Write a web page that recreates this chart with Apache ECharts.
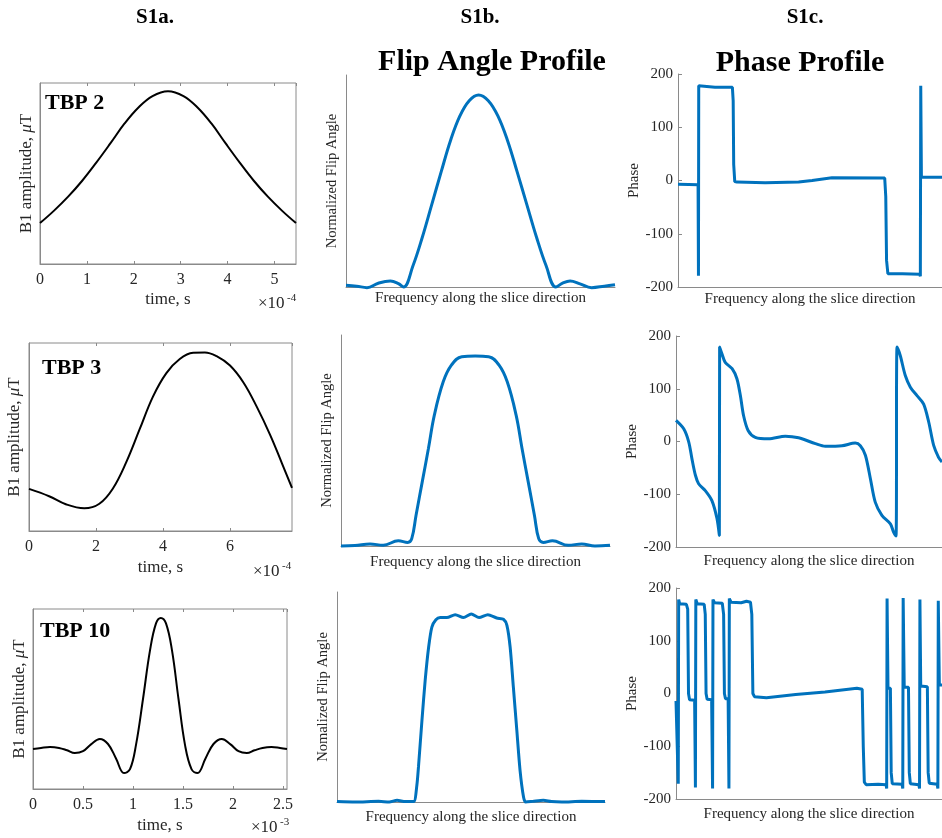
<!DOCTYPE html>
<html>
<head>
<meta charset="utf-8">
<title>RF pulse, flip angle and phase profiles</title>
<script src="https://cdn.jsdelivr.net/npm/echarts@6/dist/echarts.min.js"></script>
<style>
  html, body { margin: 0; padding: 0; background: #fff; }
  #main { width: 942px; height: 838px; }
</style>
</head>
<body>
<div id="main"></div>
<script>
// S1a: B1 pulse shapes, [time (x10^-4 or x10^-3 s), amplitude as fraction of the box]
const tbp2Pulse = [[0,0.226],[0.3,0.295],[0.6,0.372],[0.9,0.46],[1.2,0.56],[1.5,0.666],[1.8,0.775],[2.1,0.865],[2.4,0.928],[2.73,0.955],
  [3.06,0.928],[3.36,0.865],[3.66,0.775],[3.96,0.666],[4.26,0.56],[4.56,0.46],[4.86,0.372],[5.16,0.295],[5.46,0.226]];
const tbp3Pulse = [[0,0.224],[0.6,0.185],[1.1,0.142],[1.65,0.121],[2.1,0.145],[2.5,0.225],[2.9,0.365],[3.3,0.54],[3.7,0.715],[4.1,0.84],
  [4.5,0.915],[4.9,0.948],[5.25,0.95],[5.6,0.93],[6.0,0.88],[6.4,0.79],[6.8,0.66],[7.2,0.51],[7.55,0.36],[7.85,0.23]];
const tbp10Pulse = [[0,0.222],[0.08,0.228],[0.17,0.233],[0.26,0.228],[0.34,0.215],[0.418,0.2],[0.5,0.21],[0.58,0.248],[0.668,0.278],[0.75,0.25],
  [0.83,0.17],[0.91,0.089],[0.97,0.11],[1.03,0.245],[1.1,0.5],[1.17,0.77],[1.23,0.92],[1.278,0.95],[1.33,0.92],[1.39,0.77],[1.455,0.5],
  [1.52,0.245],[1.585,0.11],[1.645,0.089],[1.725,0.17],[1.805,0.25],[1.888,0.278],[1.975,0.248],[2.055,0.21],[2.138,0.2],[2.215,0.215],
  [2.295,0.228],[2.385,0.233],[2.47,0.228],[2.54,0.222]];

// S1b: normalized flip angle vs frequency (0..100 across the panel)
const tbp2Flip = [[0,0.008],[4,0.004],[7.8,-0.003],[12,0.018],[16.5,0.028],[19.5,0.016],[21.4,0],[24.9,0.1],[28.4,0.236],[31.9,0.39],
  [35.4,0.544],[38.8,0.689],[42.3,0.806],[45.8,0.879],[49.3,0.906],[52.9,0.879],[56.5,0.806],[60.1,0.689],[63.6,0.544],[67.2,0.39],
  [70.8,0.236],[74.4,0.1],[78,0],[80.5,0.018],[83.3,0.028],[87,0.015],[91.3,-0.003],[96,0.004],[100,0.011]];
const tbp3Flip = [[0,0],[5.2,0.002],[10.8,0.01],[15.7,0.003],[21.3,0.025],[24.8,0.017],[26.3,0.035],[27.9,0.146],[30.2,0.304],[32.5,0.462],
  [34.7,0.62],[38,0.778],[41.1,0.858],[44.9,0.897],[49.9,0.9],[54.9,0.897],[58.7,0.858],[61.8,0.778],[65.1,0.62],[67.3,0.462],
  [69.6,0.304],[71.9,0.146],[73.5,0.035],[75.2,0.017],[78.6,0.025],[84.5,0.003],[89.5,0.01],[94.4,0],[100,0.003]];
const tbp10Flip = [[0,0.002],[6.8,0],[15.5,0.003],[19.5,0],[22.4,0.008],[25.5,0.002],[28.6,0.002],[29.8,0.08],[30.4,0.167],[31.7,0.389],
  [32.9,0.579],[34.2,0.738],[35.4,0.833],[36.9,0.868],[38.5,0.878],[41,0.878],[44.1,0.892],[47.2,0.878],[50.1,0.895],[53,0.878],
  [56.3,0.892],[59.6,0.876],[62.1,0.87],[63.4,0.841],[64.6,0.738],[65.8,0.548],[67.1,0.341],[68.3,0.151],[69.6,0.024],[70.4,0],
  [73,0.003],[77,0.008],[80,0.002],[83.9,0],[91.3,0.003],[100,0.002]];

// S1c: phase (degrees) vs frequency (0..100 across the panel)
const tbp2Phase = [[0,-7],[4,-7.5],[7.6,-8],[7.75,-179],[7.85,178],[8.3,175],[14,175],[20.6,175],[20.9,150],[21.1,30],[21.5,-2],
  [22.3,-3],[33,-4.4],[45.7,-3],[50.8,0],[58.3,5],[78.3,4.5],[78.7,-30],[79,-150],[79.5,-175],[85,-175],[91.6,-176],[91.8,-180],
  [91.95,178],[92.2,6],[96,6],[100,6]];
const tbp3Phase = [[0,40],[2.9,24],[4.8,-1],[6,-33],[7.3,-64],[8.5,-80],[11,-93],[13.5,-112],[15.4,-146],[16.3,-178],[16.4,179],
  [17.3,166],[18.5,150],[21.1,138],[22.9,119],[24.2,87],[25.4,49],[27.1,21],[29.8,8],[34.8,5],[41.1,10],[46.1,7],[52.4,-4],
  [56.1,-9],[62.4,-8],[67.4,-3],[69.3,-8],[71.2,-26],[73.1,-71],[74.9,-115],[77.4,-140],[80.6,-156],[81.8,-172],[82.7,-179],
  [83.1,179],[84.3,163],[86.2,125],[88.1,103],[90.6,87],[93.1,71],[95,37],[96.9,-8],[98.7,-30],[100,-39]];
const tbp10Phase = [[0,-14],[0.6,-14],[0.85,-171],[1,178],[1.4,170],[3.9,169],[4.4,160],[4.7,0],[5.1,-12],[7,-13],[7.3,-178],
  [7.45,178],[8,170],[10.6,169],[11,150],[11.3,0],[11.7,-11],[13.4,-12],[13.75,-180],[13.9,178],[14.5,172],[17.4,171],[17.9,150],
  [18.2,0],[18.6,-10],[19.6,-10],[19.9,-180],[20.05,180],[20.7,173],[24.5,172],[26.5,175],[28,173],[28.5,150],[28.9,0],[29.5,-6],
  [34,-8],[45,-2],[56,3],[68,10],[70,8],[70.4,-100],[70.8,-168],[71.5,-173],[76,-172],[79,-173],[79.2,-180],[79.35,180],[79.7,10],
  [80.6,10],[80.9,-150],[81.3,-171],[85,-172],[85.25,-180],[85.4,181],[85.8,12],[87.4,12],[87.7,-150],[88.1,-171],[91.3,-173],
  [91.55,-180],[91.7,178],[92,14],[94.5,13],[94.8,-150],[95.2,-170],[98.2,-172],[98.45,-180],[98.6,176],[99,16],[100,16]];

const phaseTicks = [-200, -100, 0, 100, 200];

const FONT = '"Liberation Serif", "Times New Roman", serif';
const GRAY = '#8a8a8a';
const TEXT = '#262626';
const BLUE = '#0072BD';

const grids = [], xAxes = [], yAxes = [], series = [];

function addGrid(rect, boxed) {
  grids.push(Object.assign({
    show: boxed, borderColor: GRAY, borderWidth: 1, backgroundColor: 'transparent',
    containLabel: false, outerBoundsMode: 'none'
  }, rect));
  return grids.length - 1;
}

function nameStyle(size) {
  return { fontFamily: FONT, fontSize: size, color: TEXT };
}

// left column: boxed pulse plot
function pulsePanel(rect, data, xMax, xStep, yGap, xGap) {
  const g = addGrid(rect, true);
  const tick = { show: true, inside: true, length: 3, lineStyle: { color: GRAY } };
  xAxes.push({
    gridIndex: g, type: 'value', min: 0, max: xMax, interval: xStep, position: 'bottom',
    axisLine: { show: true, onZero: false, lineStyle: { color: GRAY } },
    axisTick: tick,
    axisLabel: { show: true, showMaxLabel: false, color: TEXT, fontFamily: FONT, fontSize: 16, margin: 8 },
    splitLine: { show: false },
    name: 'time, s', nameLocation: 'middle', nameGap: xGap, nameTextStyle: nameStyle(17)
  });
  const xi = xAxes.length - 1;
  xAxes.push({
    gridIndex: g, type: 'value', min: 0, max: xMax, interval: xStep, position: 'top',
    axisLine: { show: false, onZero: false }, axisTick: tick,
    axisLabel: { show: false }, splitLine: { show: false }
  });
  yAxes.push({
    gridIndex: g, type: 'value', min: 0, max: 1,
    axisLine: { show: true, onZero: false, lineStyle: { color: GRAY } },
    axisTick: { show: false }, axisLabel: { show: false }, splitLine: { show: false },
    name: 'B1 amplitude, {mu|μ}T', nameLocation: 'middle', nameGap: yGap,
    nameTextStyle: Object.assign(nameStyle(17), { rich: { mu: { fontFamily: FONT, fontSize: 17, fontStyle: 'italic', color: TEXT } } })
  });
  series.push({
    type: 'line', xAxisIndex: xi, yAxisIndex: yAxes.length - 1, data: data,
    showSymbol: false, smooth: 0.4, clip: false, silent: true,
    lineStyle: { color: '#000', width: 2 }
  });
}

// middle column: flip angle profile, only left and bottom axis lines
function flipPanel(rect, data, yName, xGap, smooth) {
  const g = addGrid(rect, false);
  xAxes.push({
    gridIndex: g, type: 'value', min: 0, max: 100,
    axisLine: { show: true, onZero: false, lineStyle: { color: GRAY } },
    axisTick: { show: false }, axisLabel: { show: false }, splitLine: { show: false },
    name: 'Frequency along the slice direction', nameLocation: 'middle', nameGap: xGap, nameTextStyle: nameStyle(15)
  });
  yAxes.push({
    gridIndex: g, type: 'value', min: 0, max: 1,
    axisLine: { show: true, onZero: false, lineStyle: { color: GRAY } },
    axisTick: { show: false }, axisLabel: { show: false }, splitLine: { show: false },
    name: yName, nameLocation: 'middle', nameGap: 6, nameTextStyle: nameStyle(14.5)
  });
  series.push({
    type: 'line', xAxisIndex: xAxes.length - 1, yAxisIndex: yAxes.length - 1, data: data,
    showSymbol: false, smooth: smooth, clip: false, silent: true,
    lineStyle: { color: BLUE, width: 3 }
  });
}

// right column: phase profile with a labelled y axis
function phasePanel(rect, data, xGap, smooth) {
  const g = addGrid(rect, false);
  xAxes.push({
    gridIndex: g, type: 'value', min: 0, max: 100,
    axisLine: { show: true, onZero: false, lineStyle: { color: GRAY } },
    axisTick: { show: false }, axisLabel: { show: false }, splitLine: { show: false },
    name: 'Frequency along the slice direction', nameLocation: 'middle', nameGap: xGap, nameTextStyle: nameStyle(15)
  });
  yAxes.push({
    gridIndex: g, type: 'value', min: phaseTicks[0], max: phaseTicks[phaseTicks.length - 1], interval: phaseTicks[1] - phaseTicks[0],
    axisLine: { show: true, onZero: false, lineStyle: { color: GRAY } },
    axisTick: { show: true, inside: true, length: 4, lineStyle: { color: GRAY } },
    axisLabel: { show: true, color: TEXT, fontFamily: FONT, fontSize: 15, margin: 5 },
    splitLine: { show: false },
    name: 'Phase', nameLocation: 'middle', nameGap: 33, nameTextStyle: nameStyle(15)
  });
  series.push({
    type: 'line', xAxisIndex: xAxes.length - 1, yAxisIndex: yAxes.length - 1, data: data,
    showSymbol: false, smooth: smooth, clip: false, silent: true,
    lineStyle: { color: BLUE, width: 3 }
  });
}

pulsePanel({ left: 40, top: 83, width: 256, height: 181 }, tbp2Pulse, 5.46, 1, 4.5, 27.5);
flipPanel({ left: 346, top: 75, width: 269, height: 212 }, tbp2Flip, 'Normalized Flip Angle', 4, 0.4);
phasePanel({ left: 678, top: 74, width: 264, height: 213 }, tbp2Phase, 4.5, false);

pulsePanel({ left: 29, top: 343, width: 263, height: 188 }, tbp3Pulse, 7.85, 2, 6, 28.5);
flipPanel({ left: 341, top: 335, width: 269, height: 211 }, tbp3Flip, 'Normalized Flip Angle', 8.5, 0.4);
phasePanel({ left: 676, top: 336, width: 266, height: 211 }, tbp3Phase, 7, 0.3);

pulsePanel({ left: 33, top: 609, width: 254, height: 180 }, tbp10Pulse, 2.54, 0.5, 5, 28);
flipPanel({ left: 337, top: 592, width: 268, height: 210 }, tbp10Flip, 'Nomalized Flip Angle', 7.5, 0.25);
phasePanel({ left: 676, top: 588, width: 266, height: 211 }, tbp10Phase, 7.5, false);

function label(text, x, y, size, bold, align) {
  return {
    type: 'text', x: x, y: y, silent: true,
    style: {
      text: text, fill: '#000', fontFamily: FONT, fontSize: size, fontWeight: bold ? 'bold' : 'normal',
      textAlign: align || 'center', textVerticalAlign: 'middle'
    }
  };
}

function exponent(base, power, x, y) {
  return [
    label(base, x, y, 17, false, 'left'),
    label(power, x + 29, y - 6, 11, false, 'left')
  ];
}

const graphic = [
  label('S1a.', 155, 18, 21, true),
  label('S1b.', 480, 18, 21, true),
  label('S1c.', 805, 18, 21, true),
  label('Flip Angle Profile', 492, 62, 30, true),
  label('Phase Profile', 800, 63, 30, true),
  label('TBP 2', 45, 103, 22, true, 'left'),
  label('TBP 3', 42, 368, 22, true, 'left'),
  label('TBP 10', 40, 631, 22, true, 'left')
];
const exponents = [].concat(
  exponent('×10', '-4', 258, 304),
  exponent('×10', '-4', 253, 572),
  exponent('×10', '-3', 251, 828)
);
exponents.forEach(function (el) { el.style.fill = TEXT; });

const chart = echarts.init(document.getElementById('main'), null, { renderer: 'canvas' });
chart.setOption({
  animation: false,
  backgroundColor: '#fff',
  grid: grids,
  xAxis: xAxes,
  yAxis: yAxes,
  series: series,
  graphic: graphic.concat(exponents)
});
</script>
</body>
</html>
